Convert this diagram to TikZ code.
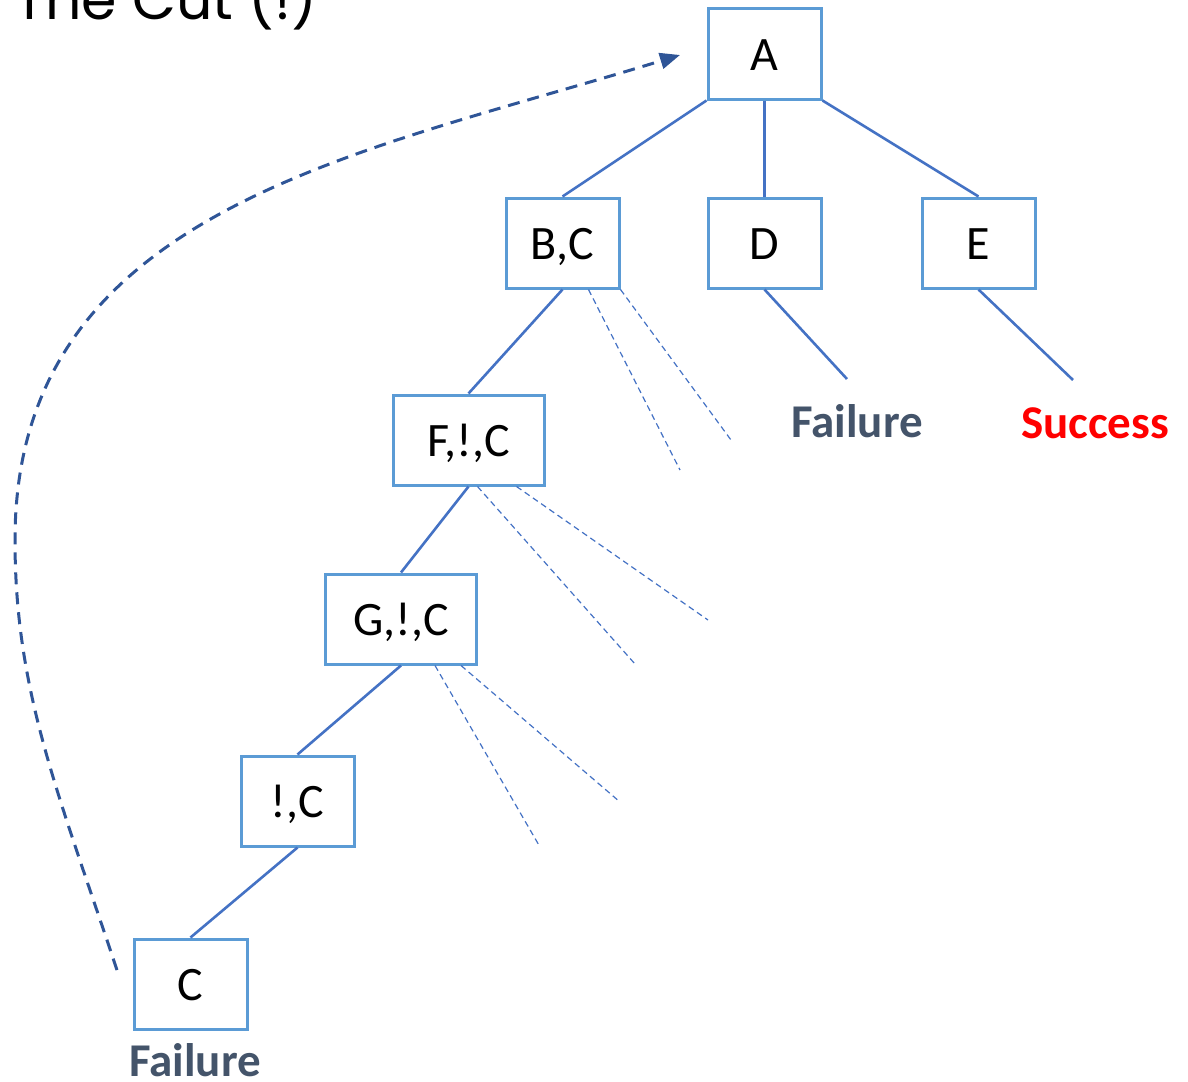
\documentclass[tikz,border=0pt]{standalone}
\usepackage{fontspec}
\setmainfont{Carlito}
\newfontfamily\titlefont{Poppins}
\usetikzlibrary{arrows.meta,calc}
\definecolor{boxline}{HTML}{5B9BD5}
\definecolor{edgeline}{HTML}{4472C4}
\definecolor{loopline}{HTML}{2F5597}
\definecolor{failtext}{HTML}{44546A}
\definecolor{oktext}{HTML}{FF0000}
\tikzset{
  goalbox/.style={draw=boxline, line width=3, fill=white, inner sep=0,
    minimum height=90, text height=33, text depth=0,
    font=\fontsize{48}{57}\selectfont},
  narrow/.style={goalbox, minimum width=113},
  wide/.style={goalbox, minimum width=151},
  branch/.style={draw=edgeline, line width=2.6},
  untried/.style={draw=edgeline, line width=1.2, dash pattern=on 6 off 4},
  outcome/.style={font=\fontsize{47}{56}\selectfont\bfseries, inner sep=0},
  backtrack/.style={draw=loopline, line width=3, dash pattern=on 12 off 8,
    -{Triangle[length=20,width=16]}}
}
\begin{document}
\begin{tikzpicture}[x=1pt, y=-1pt]
\useasboundingbox (0,0) rectangle (1188,1081);

% heading, partly above the page edge
\node[anchor=base west, inner sep=0, font=\titlefont\fontsize{57}{68}\selectfont] (title) at (14,20) {The Cut (!)};

% goal nodes
\node[narrow] (A)  at (764.5,54)  {A};
\node[narrow] (BC) at (562.5,243) {B,C};
\node[narrow] (D)  at (764.5,243) {D};
\node[narrow] (E)  at (978.5,243) {E};
\node[wide]   (F)  at (468.5,440) {F,!,C};
\node[wide]   (G)  at (401,619)   {G,!,C};
\node[narrow] (K)  at (297.5,801) {!,C};
\node[narrow] (C)  at (190.5,984) {C};

% outcomes
\node[outcome, text=failtext] (failD) at (857,421)  {Failure};
\node[outcome, text=oktext]   (succE) at (1095,423) {Success};
\node[outcome, text=failtext] (failC) at (195,1060) {Failure};

% ends of the leaf branches
\coordinate (dEnd) at (847,379);
\coordinate (eEnd) at (1073,380);

% tree branches
\draw[branch] (A.south west) -- (BC.north);
\draw[branch] (A.south) -- (D.north);
\draw[branch] (A.south east) -- (E.north);
\draw[branch] (BC.south) -- (F.north);
\draw[branch] (F.south) -- (G.north);
\draw[branch] (G.south) -- (K.north);
\draw[branch] (K.south) -- (C.north);
\draw[branch] (D.south) -- (dEnd);
\draw[branch] (E.south) -- (eEnd);

% alternatives cut away
\coordinate (bc1) at (680,470);
\coordinate (bc2) at (731,440);
\coordinate (f1)  at (635,664);
\coordinate (f2)  at (708,620);
\coordinate (g1)  at (540,847);
\coordinate (g2)  at (620,802);
\draw[untried] ($(BC.south)+(26,0)$) -- (bc1);
\draw[untried] (BC.south east) -- (bc2);
\draw[untried] ($(F.south)+(9,0)$) -- (f1);
\draw[untried] ($(F.south)+(48,0)$) -- (f2);
\draw[untried] ($(G.south)+(34,0)$) -- (g1);
\draw[untried] ($(G.south)+(60,0)$) -- (g2);

% backtracking after failure
\coordinate (loopStart) at (117,970);
\coordinate (loopTip) at (680,55);
\draw[backtrack] (loopStart) .. controls (57,790) and (15,690) .. (15,540)
  .. controls (15,210) and (355,155) .. (loopTip);
\end{tikzpicture}
\end{document}
